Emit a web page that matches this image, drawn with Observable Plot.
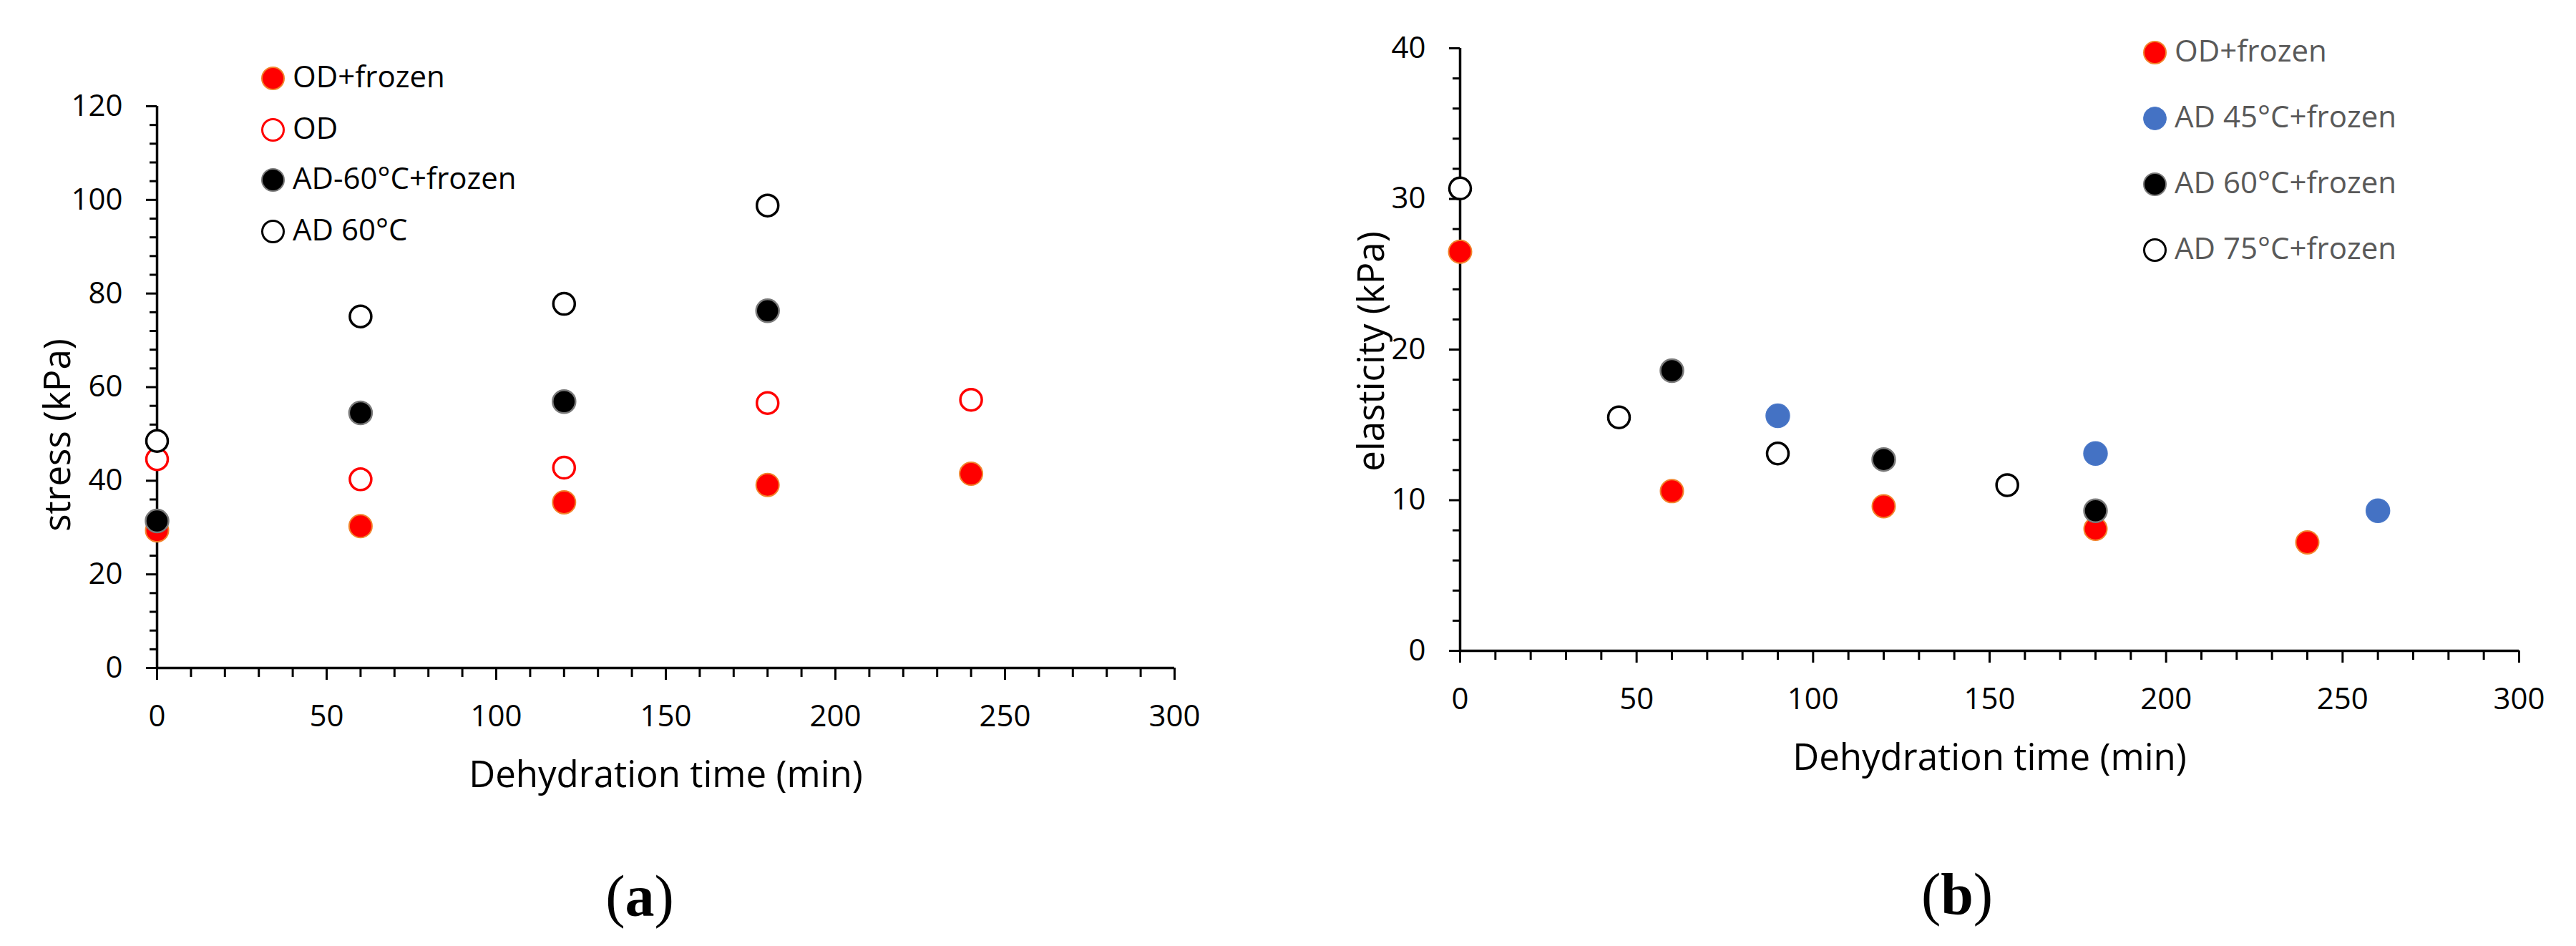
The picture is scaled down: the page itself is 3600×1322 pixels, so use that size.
<!DOCTYPE html>
<html>
<head>
<meta charset="utf-8">
<script src="https://cdn.jsdelivr.net/npm/d3@7"></script>
<script src="https://cdn.jsdelivr.net/npm/@observablehq/plot@0.6"></script>
<style>
  html, body { margin: 0; padding: 0; background: #fff; }
  #page { position: relative; width: 3600px; height: 1322px; background: #fff; font-family: "Open Sans", sans-serif; overflow: hidden; }
  .panel { position: absolute; top: 0; }
  .leg { position: absolute; white-space: nowrap; font-size: 42px; line-height: 1; }
  .leg .m { width: 33px; height: 33px; border-radius: 50%; box-sizing: border-box; position: absolute; left: -16px; top: -16px; }
  .leg .t { position: absolute; left: 28px; top: -24px; }
  .ylab { position: absolute; font-size: 51px; line-height: 1; white-space: nowrap; color: #000; transform: translate(-50%, -50%) rotate(-90deg); }
  .cap { position: absolute; font-family: "Liberation Serif", "Times New Roman", serif; font-size: 82px; line-height: 1; transform: translate(-50%, -50%); white-space: nowrap; }
  .cap b { font-weight: bold; }
</style>
</head>
<body>
<div id="page"></div>
<script>
// ---------- Panel (a): stress ----------
const stressTime       = [0, 60, 120, 180, 240];
const stressODFrozen   = [29.4, 30.3, 35.4, 39.1, 41.5];
const stressOD         = [44.6, 40.3, 42.8, 56.6, 57.3];
const stressADTime     = [0, 60, 120, 180];
const stressAD60Frozen = [31.4, 54.5, 56.9, 76.3];
const stressAD60       = [48.5, 75.1, 77.8, 98.8];

const stressSeriesNames = ["OD+frozen", "OD", "AD-60°C+frozen", "AD 60°C"];
const stressYTicks = [0, 20, 40, 60, 80, 100, 120];

// ---------- Panel (b): elasticity ----------
const elasODFrozenTime = [0, 60, 120, 180, 240];
const elasODFrozen     = [26.5, 10.6, 9.6, 8.1, 7.2];
const elasAD45Time     = [90, 180, 260];
const elasAD45         = [15.6, 13.1, 9.3];
const elasAD60Time     = [60, 120, 180];
const elasAD60         = [18.6, 12.7, 9.3];
const elasAD75Time     = [0, 45, 90, 155];
const elasAD75         = [30.7, 15.5, 13.1, 11.0];

const elasSeriesNames = ["OD+frozen", "AD 45°C+frozen", "AD 60°C+frozen", "AD 75°C+frozen"];
const elasYTicks = [0, 10, 20, 30, 40];

const xTicks = [0, 50, 100, 150, 200, 250, 300];
const xLabel = "Dehydration time (min)";

// ---------- styles ----------
const sty = {
  redFilled:   {fill: "#ff0000", stroke: "#f2832c", strokeWidth: 2},
  redOpen:     {fill: "#ffffff", stroke: "#ff0000", strokeWidth: 3.5},
  blackFilled: {fill: "#000000", stroke: "#7a7a7a", strokeWidth: 2.5},
  blackOpen:   {fill: "#ffffff", stroke: "#000000", strokeWidth: 3.5},
  blueFilled:  {fill: "#4472c4", stroke: "#4a78c8", strokeWidth: 1.5}
};

const zip = (xs, ys) => xs.map((x, i) => ({x, y: ys[i]}));
const page = document.getElementById("page");

function panel({left, width, marginLeft, marginRight, marginTop, marginBottom, yDomain, yTicks, yMinorStep, series}) {
  const yMinor = d3.range(yDomain[0], yDomain[1] + 1e-9, yMinorStep).filter(v => !yTicks.includes(v));
  const xMinor = d3.range(0, 301, 10).filter(v => !xTicks.includes(v));
  const axisStyle = {stroke: "#000", strokeWidth: 3, fill: "#000", fontSize: 42, label: null};
  const marks = [
    Plot.axisY({...axisStyle, ticks: yMinor, tickSize: 10, tickFormat: () => ""}),
    Plot.axisY({...axisStyle, ticks: yTicks, tickSize: 15, tickPadding: 33, tickFormat: d => String(d)}),
    Plot.axisX({...axisStyle, ticks: xMinor, tickSize: 13, tickFormat: () => ""}),
    Plot.axisX({...axisStyle, ticks: xTicks, tickSize: 17, tickPadding: 35, tickFormat: d => String(d)}),
    Plot.ruleX([0], {stroke: "#000", strokeWidth: 3.5}),
    Plot.ruleY([0], {stroke: "#000", strokeWidth: 3.5}),
    ...series.map(s => Plot.dot(s.data, {x: "x", y: "y", r: s.r, ...s.style})),
    Plot.text([xLabel], {text: d => d, frameAnchor: "bottom", dy: 150, lineAnchor: "middle", fontSize: 51, fill: "#000"})
  ];
  const svg = Plot.plot({
    width, height: 1322, marginLeft, marginRight, marginTop, marginBottom,
    x: {domain: [0, 300]},
    y: {domain: yDomain},
    style: {fontFamily: "'Open Sans', sans-serif", color: "#000", background: "transparent", overflow: "visible"},
    marks
  });
  svg.classList.add("panel");
  svg.style.left = left + "px";
  page.appendChild(svg);
  return svg;
}

panel({
  left: 0, width: 1800, marginLeft: 219, marginRight: 159, marginTop: 148, marginBottom: 389,
  yDomain: [0, 120], yTicks: stressYTicks, yMinorStep: 4,
  series: [
    {data: zip(stressTime, stressODFrozen), style: sty.redFilled, r: 16},
    {data: zip(stressTime, stressOD), style: sty.redOpen, r: 15},
    {data: zip(stressADTime, stressAD60Frozen), style: sty.blackFilled, r: 16},
    {data: zip(stressADTime, stressAD60), style: sty.blackOpen, r: 15}
  ]
});

panel({
  left: 1800, width: 1800, marginLeft: 240, marginRight: 80, marginTop: 67, marginBottom: 413,
  yDomain: [0, 40], yTicks: elasYTicks, yMinorStep: 2,
  series: [
    {data: zip(elasODFrozenTime, elasODFrozen), style: sty.redFilled, r: 16},
    {data: zip(elasAD45Time, elasAD45), style: sty.blueFilled, r: 16.5},
    {data: zip(elasAD60Time, elasAD60), style: sty.blackFilled, r: 16},
    {data: zip(elasAD75Time, elasAD75), style: sty.blackOpen, r: 15}
  ]
});

// ---------- rotated y-axis titles ----------
function ylab(cx, cy, text) {
  const d = document.createElement("div");
  d.className = "ylab";
  d.style.left = cx + "px";
  d.style.top = cy + "px";
  d.textContent = text;
  page.appendChild(d);
}
ylab(78, 608, "stress (kPa)");
ylab(1914, 491, "elasticity (kPa)");

// ---------- legends ----------
function legend(x, ys, names, styles, color) {
  names.forEach((name, i) => {
    const s = styles[i];
    const d = document.createElement("div");
    d.className = "leg";
    d.style.left = x + "px";
    d.style.top = ys[i] + "px";
    const m = document.createElement("div");
    m.className = "m";
    m.style.background = s.fill;
    m.style.border = `${Math.min(s.strokeWidth, 3.5)}px solid ${s.stroke}`;
    const t = document.createElement("div");
    t.className = "t";
    t.textContent = name;
    t.style.color = color;
    d.appendChild(m);
    d.appendChild(t);
    page.appendChild(d);
  });
}
legend(381, [109, 181, 251, 323], stressSeriesNames,
  [sty.redFilled, sty.redOpen, sty.blackFilled, sty.blackOpen], "#000");
legend(3011, [73, 165, 257, 349], elasSeriesNames,
  [sty.redFilled, sty.blueFilled, sty.blackFilled, sty.blackOpen], "#595959");

// ---------- captions ----------
function caption(x, y, letter) {
  const c = document.createElement("div");
  c.className = "cap";
  c.style.left = x + "px";
  c.style.top = y + "px";
  c.innerHTML = `(<b>${letter}</b>)`;
  page.appendChild(c);
}
caption(894, 1253, "a");
caption(2735, 1250, "b");
</script>
</body>
</html>
